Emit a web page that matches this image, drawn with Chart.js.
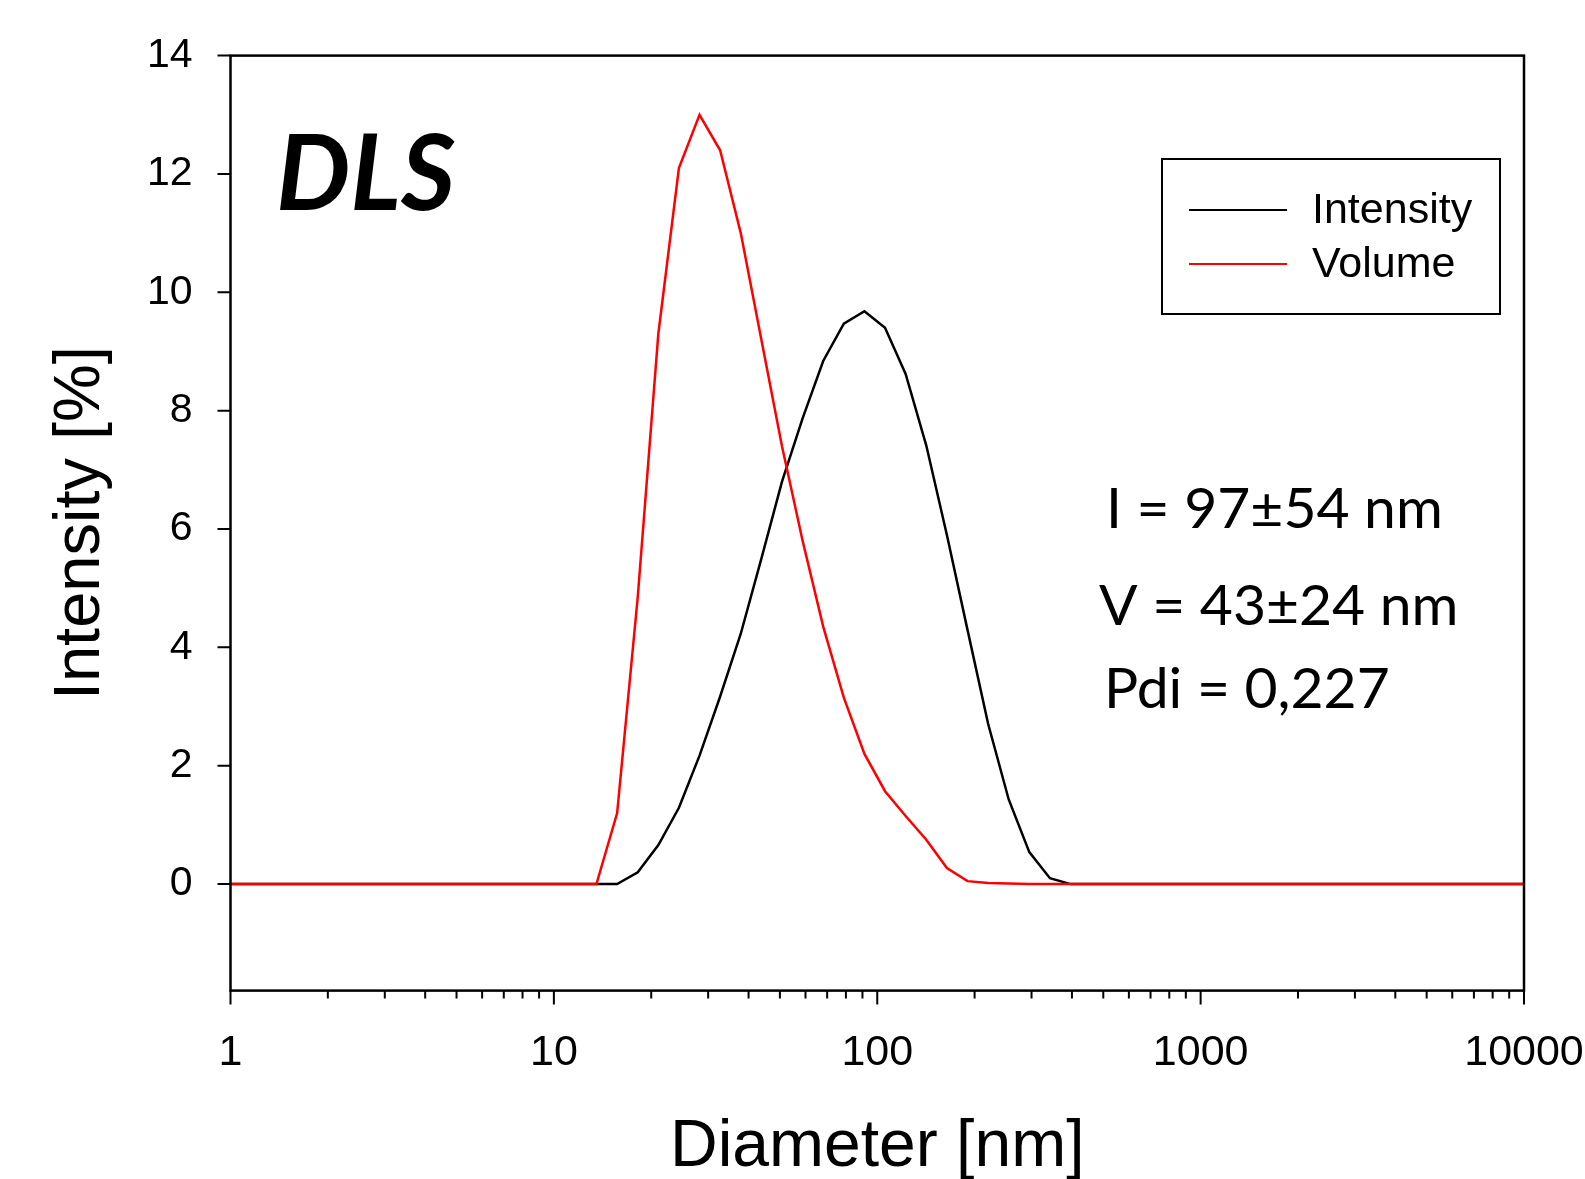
<!DOCTYPE html>
<html>
<head>
<meta charset="utf-8">
<script src="https://cdn.jsdelivr.net/npm/chart.js@4.4.1/dist/chart.umd.min.js"></script>
<style>
  html, body { margin: 0; padding: 0; background: #fff; }
  canvas { display: block; }
</style>
</head>
<body>
<canvas id="dls" width="1585" height="1179"></canvas>
<script>
// size bins [nm] (instrument log-spaced classes)
const diameters = [0.9649, 1.117, 1.294, 1.499, 1.736, 2.01, 2.328, 2.696, 3.122, 3.615,
    4.187, 4.849, 5.615, 6.503, 7.531, 8.721, 10.1, 11.7, 13.54, 15.69,
    18.17, 21.04, 24.36, 28.21, 32.67, 37.84, 43.82, 50.75, 58.77, 68.06,
    78.82, 91.28, 105.7, 122.4, 141.8, 164.2, 190.1, 220.2, 255, 295.3,
    342, 396.1, 458.7, 531.2, 615.1, 712.4, 825, 955.4, 1106, 1281,
    1484, 1718, 1990, 2305, 2669, 3091, 3580, 4145, 4801, 5560,
    6439, 7456, 8635, 10000];

const intensity = [0, 0, 0, 0, 0, 0, 0, 0, 0, 0,
    0, 0, 0, 0, 0, 0, 0, 0, 0, 0,
    0.2, 0.66, 1.29, 2.17, 3.17, 4.23, 5.5, 6.8, 7.87, 8.84,
    9.47, 9.68, 9.4, 8.62, 7.41, 5.9, 4.3, 2.71, 1.43, 0.54,
    0.1, 0, 0, 0, 0, 0, 0, 0, 0, 0,
    0, 0, 0, 0, 0, 0, 0, 0, 0, 0,
    0, 0, 0, 0];

const volume = [0, 0, 0, 0, 0, 0, 0, 0, 0, 0,
    0, 0, 0, 0, 0, 0, 0, 0, 0, 1.2,
    4.85, 9.3, 12.1, 13.0, 12.4, 11.0, 9.2, 7.4, 5.8, 4.35,
    3.15, 2.2, 1.57, 1.15, 0.75, 0.27, 0.05, 0.02, 0.01, 0,
    0, 0, 0, 0, 0, 0, 0, 0, 0, 0,
    0, 0, 0, 0, 0, 0, 0, 0, 0, 0,
    0, 0, 0, 0];

const xTicks = [1, 10, 100, 1000, 10000];
const yTicks = [0, 2, 4, 6, 8, 10, 12, 14];
const notes = ["I = 97\u00b154 nm", "V = 43\u00b124 nm", "Pdi = 0,227"];

Chart.defaults.font.family = "'Liberation Sans', Arial, sans-serif";
Chart.defaults.color = "#000";

const toPoints = vals => diameters.map((d, i) => ({ x: d, y: vals[i] }));

// frame, tick marks, legend box and the text notes
const decorations = {
    id: "decorations",
    afterDatasetsDraw(chart) {
        const { ctx, chartArea: a } = chart;
        const xs = chart.scales.x, ys = chart.scales.y;
        ctx.save();
        ctx.strokeStyle = "#000";
        ctx.lineWidth = 2.5;
        ctx.strokeRect(a.left, a.top, a.right - a.left, a.bottom - a.top);

        ctx.lineWidth = 2;
        ctx.beginPath();
        xTicks.forEach(d => {
            const px = xs.getPixelForValue(d);
            ctx.moveTo(px, a.bottom);
            ctx.lineTo(px, a.bottom + 14);
            if (d < 10000) {
                for (let k = 2; k < 10; k++) {
                    const mx = xs.getPixelForValue(d * k);
                    ctx.moveTo(mx, a.bottom);
                    ctx.lineTo(mx, a.bottom + 8);
                }
            }
        });
        yTicks.forEach(v => {
            const py = ys.getPixelForValue(v);
            ctx.moveTo(a.left - 13, py);
            ctx.lineTo(a.left, py);
        });
        ctx.stroke();

        // legend
        ctx.lineWidth = 2;
        ctx.strokeRect(1162, 159, 338, 155);
        ctx.font = "43px 'Liberation Sans', Arial, sans-serif";
        ctx.textBaseline = "middle";
        ctx.textAlign = "left";
        chart.data.datasets.forEach((ds, i) => {
            const ly = 210 + i * 54;
            ctx.strokeStyle = ds.borderColor;
            ctx.beginPath();
            ctx.moveTo(1189, ly);
            ctx.lineTo(1287, ly);
            ctx.stroke();
            ctx.fillStyle = "#000";
            ctx.fillText(ds.label, 1312, ly + 1);
        });

        // annotations
        ctx.textBaseline = "alphabetic";
        ctx.font = "bold italic 105px Lato, 'Open Sans', sans-serif";
        ctx.fillText("DLS", 276, 210);
        ctx.font = "57px Lato, 'Open Sans', sans-serif";
        ctx.fillText(notes[0], 1106, 528);
        ctx.fillText(notes[1], 1099, 625);
        ctx.fillText(notes[2], 1104, 708);
        ctx.restore();
    }
};

new Chart(document.getElementById("dls"), {
    type: "line",
    data: {
        datasets: [
            {
                label: "Intensity",
                data: toPoints(intensity),
                borderColor: "#000000",
                borderWidth: 2.5,
                pointRadius: 0,
                tension: 0,
                order: 1
            },
            {
                label: "Volume",
                data: toPoints(volume),
                borderColor: "#ff0000",
                borderWidth: 2.5,
                pointRadius: 0,
                tension: 0,
                order: 0
            }
        ]
    },
    options: {
        responsive: false,
        animation: false,
        layout: { autoPadding: false, padding: { left: 0, right: 61, top: 55.6, bottom: 0 } },
        plugins: {
            legend: { display: false },
            tooltip: { enabled: false }
        },
        scales: {
            x: {
                type: "logarithmic",
                min: 1,
                max: 10000,
                grid: { display: false, drawTicks: false },
                border: { display: false },
                afterBuildTicks: s => { s.ticks = xTicks.map(v => ({ value: v })); },
                afterFit: s => {
                    s.height = 188.4;
                    s.paddingLeft = 0;
                    s.paddingRight = 0;
                },
                ticks: {
                    padding: 37,
                    maxRotation: 0,
                    font: { size: 43 },
                    callback: v => String(v)
                },
                title: {
                    display: true,
                    text: "Diameter [nm]",
                    font: { size: 66, lineHeight: 0.96 },
                    padding: { top: 0, bottom: 0 }
                }
            },
            y: {
                min: -1.8,
                max: 14,
                grid: { display: false, drawTicks: false },
                border: { display: false },
                afterBuildTicks: s => { s.ticks = yTicks.map(v => ({ value: v })); },
                afterFit: s => {
                    s.width = 230.5;
                    s.paddingTop = 0;
                    s.paddingBottom = 0;
                },
                ticks: {
                    padding: 38,
                    font: { size: 41 },
                    callback: v => String(v)
                },
                title: {
                    display: true,
                    text: "Intensity [%]",
                    font: { size: 65 },
                    padding: { top: 42, bottom: 0 }
                }
            }
        }
    },
    plugins: [decorations]
});
</script>
</body>
</html>
